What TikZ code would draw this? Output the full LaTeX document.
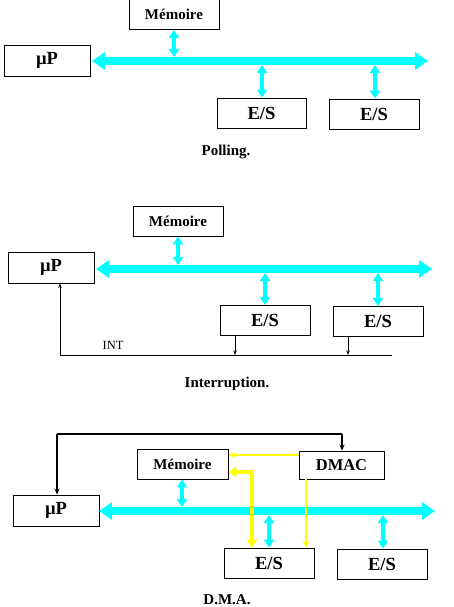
\documentclass[tikz,border=0pt]{standalone}
\usepackage{fontspec}
\setmainfont{Liberation Serif}
\usetikzlibrary{arrows.meta}
\definecolor{buscyan}{RGB}{0,255,255}
\definecolor{dmayellow}{RGB}{255,255,0}
\tikzset{
  box/.style={draw, line width=0.9pt, inner sep=0pt, minimum width=90pt, minimum height=30pt, font=\bfseries\fontsize{18.5}{20}\selectfont},
  membox/.style={box, font=\bfseries\fontsize{15}{17}\selectfont},
  caption/.style={font=\bfseries\fontsize{15}{17}\selectfont, inner sep=0pt},
  bus/.style={draw=buscyan, line width=8pt, {Triangle[width=17pt,length=13pt]}-{Triangle[width=17pt,length=13pt]}},
  link/.style={draw=buscyan, line width=4pt, {Triangle[width=10pt,length=8pt]}-{Triangle[width=10pt,length=8pt]}},
  sig/.style={draw=black, line width=0.7pt, -{Stealth[width=3.5pt,length=4.5pt]}},
  ctrl/.style={draw=black, line width=1.3pt, -{Stealth[width=5pt,length=6pt]}},
  ythin/.style={draw=dmayellow, line width=1.6pt, -{Triangle[width=6pt,length=6pt]}},
  ythick/.style={draw=dmayellow, line width=4pt, {Triangle[width=10pt,length=8pt]}-{Triangle[width=10pt,length=8pt]}},
}
\begin{document}
\begin{tikzpicture}[x=1pt,y=-1pt]
\useasboundingbox (0,0) rectangle (454,607);

% ---------- Polling ----------
\node[membox] (m1) at (174,14.5) {Mémoire};
\node[box, minimum width=86pt, minimum height=31pt] (p1) at (47,60.5) {µP};
\node[box, minimum width=89pt] (e1a) at (261.5,113) {E/S};
\node[box] (e1b) at (374,114) {E/S};
\coordinate (b1l) at (92,61);
\coordinate (b1r) at (428,61);
\draw[bus] (b1l) -- (b1r);
\coordinate (b1m) at (174,57);
\coordinate (b1a) at (262,65);
\coordinate (b1b) at (375,65);
\draw[link] (m1.south -| b1m) -- (b1m);
\draw[link] (b1a) -- (e1a.north -| b1a);
\draw[link] (b1b) -- (e1b.north -| b1b);
\node[caption] (c1) at (226,152) {Polling.};

% ---------- Interruption ----------
\node[membox] (m2) at (178,221) {Mémoire};
\node[box, minimum width=86pt, minimum height=31pt] (p2) at (51,267.5) {µP};
\node[box] (e2a) at (265,320.5) {E/S};
\node[box] (e2b) at (378,321.5) {E/S};
\coordinate (b2l) at (96,269);
\coordinate (b2r) at (432,269);
\draw[bus] (b2l) -- (b2r);
\coordinate (b2m) at (178,265);
\coordinate (b2a) at (265,273);
\coordinate (b2b) at (378,273);
\draw[link] (m2.south -| b2m) -- (b2m);
\draw[link] (b2a) -- (e2a.north -| b2a);
\draw[link] (b2b) -- (e2b.north -| b2b);
\coordinate (i0) at (60,355);
\coordinate (i1) at (392,355);
\coordinate (ia) at (235,355);
\coordinate (ib) at (348,355);
\draw[black, line width=0.7pt] (i0) -- (i1);
\draw[sig] (i0) -- (p2.south -| i0);
\draw[sig] (e2a.south -| ia) -- (ia);
\draw[sig] (e2b.south -| ib) -- (ib);
\node[font=\fontsize{12.5}{14}\selectfont, inner sep=0pt] (int) at (113,345) {INT};
\node[caption] (c2) at (227,384) {Interruption.};

% ---------- D.M.A. ----------
\node[membox, minimum width=91pt] (m3) at (182.5,464) {Mémoire};
\node[membox, minimum width=85pt, minimum height=28pt, font=\bfseries\fontsize{16.5}{18}\selectfont] (dmac) at (341.5,465) {DMAC};
\node[box, minimum width=86pt, minimum height=31pt] (p3) at (56,510.5) {µP};
\node[box] (e3a) at (269,563) {E/S};
\node[box] (e3b) at (382,564) {E/S};
\coordinate (b3l) at (99,511);
\coordinate (b3r) at (435,511);
\draw[bus] (b3l) -- (b3r);
\coordinate (b3m) at (182,507);
\coordinate (b3a) at (269,515);
\coordinate (b3b) at (383,515);
\draw[link] (m3.south -| b3m) -- (b3m);
\draw[link] (b3a) -- (e3a.north -| b3a);
\draw[link] (b3b) -- (e3b.north -| b3b);
% control line
\coordinate (t0) at (57,434);
\coordinate (t1) at (342,434);
\draw[black, line width=1.3pt] (t0) -- (t1);
\draw[ctrl] (t0) -- (p3.north -| t0);
\draw[ctrl] (t1) -- (dmac.north -| t1);
% yellow signals
\coordinate (y0) at (299,455);
\draw[ythin] (dmac.west |- y0) -- (m3.east |- y0);
\coordinate (y1) at (306,479);
\draw[ythin] (dmac.south -| y1) -- (e3a.north -| y1);
\coordinate (yc) at (252,472);
\draw[ythick] (e3a.north -| yc) -- (yc) -- (m3.east |- yc);
\node[caption] (c3) at (227,600) {D.M.A.};
\end{tikzpicture}
\end{document}
